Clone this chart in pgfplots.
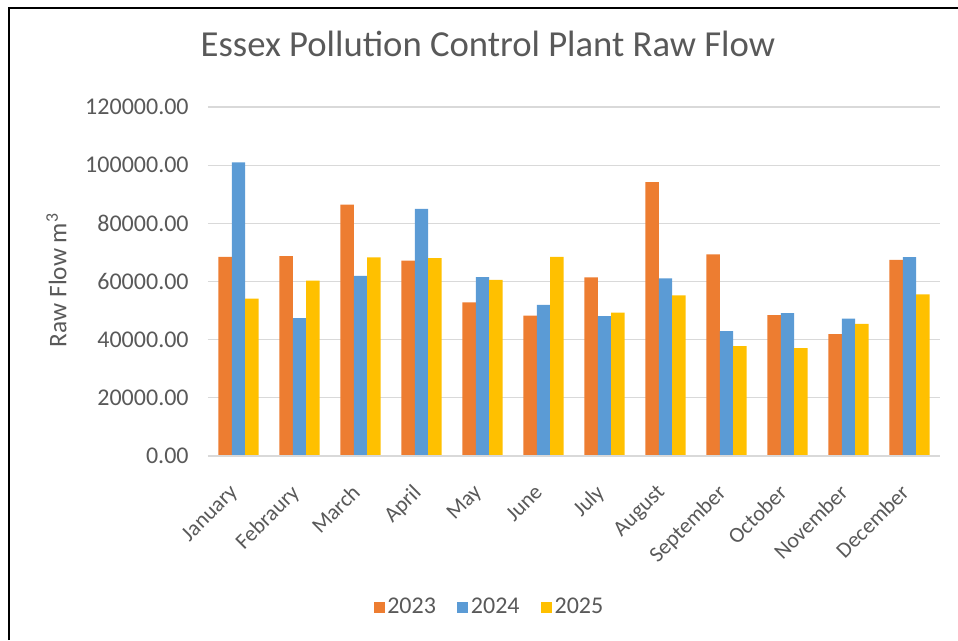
\documentclass[border=0pt]{standalone}
\usepackage{pgfplots}
\pgfplotsset{compat=1.18}
\usepackage{fontspec}
\setmainfont{Carlito}
\definecolor{c23}{HTML}{ED7D31}
\definecolor{c24}{HTML}{5B9BD5}
\definecolor{c25}{HTML}{FFC000}
\definecolor{txt}{HTML}{595959}
\definecolor{grd}{HTML}{D9D9D9}
\begin{document}
\begin{tikzpicture}
\useasboundingbox (0,0) rectangle (718.5pt,480pt);
\draw[black, line width=1.5pt] (6.4pt,0pt) -- (6.4pt,474pt) -- (718.5pt,474pt);
\begin{axis}[
  at={(156pt,138pt)}, anchor=south west,
  scale only axis, width=549pt, height=261.75pt,
  ybar=0pt, bar width=10.1pt,
  xmin=-0.5, xmax=11.5, ymin=0, ymax=120000,
  ytick={0,20000,...,120000},
  xtick={0,...,11},
  xticklabels={January,Febraury,March,April,May,June,July,August,September,October,November,December},
  x tick label style={rotate=45, anchor=north east, font=\fontsize{16.5}{19}\selectfont, text=txt, inner sep=1pt, xshift=-18.6pt, yshift=-8pt},
  y tick label style={font=\fontsize{18}{21}\selectfont, text=txt, xshift=-11pt},
  yticklabel style={/pgf/number format/.cd, fixed, fixed zerofill, precision=2, 1000 sep={}, assume math mode=true},
  scaled y ticks=false,
  major tick length=0pt,
  axis line style={draw=none},
  axis x line*=bottom, axis y line*=left,
  ymajorgrids, grid style={grd, line width=0.9pt},
  title={Essex Pollution Control Plant Raw Flow},
  title style={at={(axis description cs:0.3825,1.158)}, anchor=center, font=\fontsize{27.5}{32}\selectfont, text=txt},
  ylabel={Raw Flow m\textsuperscript{3}},
  ylabel style={at={(axis description cs:-0.207,0.504)}, anchor=center, font=\fontsize{19}{22}\selectfont, text=txt},
  legend style={at={(axis description cs:0.385,-0.433)}, anchor=center, draw=none, legend columns=3, font=\fontsize{18}{21}\selectfont, text=txt, /tikz/every even column/.append style={column sep=14pt}},
  legend image code/.code={\fill[#1] (0pt,-4.5pt) rectangle (8.25pt,3.75pt);},
  clip=false,
]
\addplot[fill=c23, draw=none] coordinates {(0,68500) (1,68700) (2,86400) (3,67200) (4,52800) (5,48300) (6,61400) (7,94200) (8,69300) (9,48400) (10,41900) (11,67400)};
\addplot[fill=c24, draw=none] coordinates {(0,101000) (1,47400) (2,61900) (3,85000) (4,61500) (5,52000) (6,48100) (7,61100) (8,42900) (9,49100) (10,47200) (11,68400)};
\addplot[fill=c25, draw=none] coordinates {(0,54100) (1,60300) (2,68300) (3,68000) (4,60600) (5,68500) (6,49300) (7,55200) (8,37800) (9,37100) (10,45400) (11,55600)};
\draw[grd, line width=0.9pt] (axis cs:-0.5,0) -- (axis cs:11.5,0);
\legend{2023,2024,2025}
\end{axis}
\end{tikzpicture}
\end{document}
